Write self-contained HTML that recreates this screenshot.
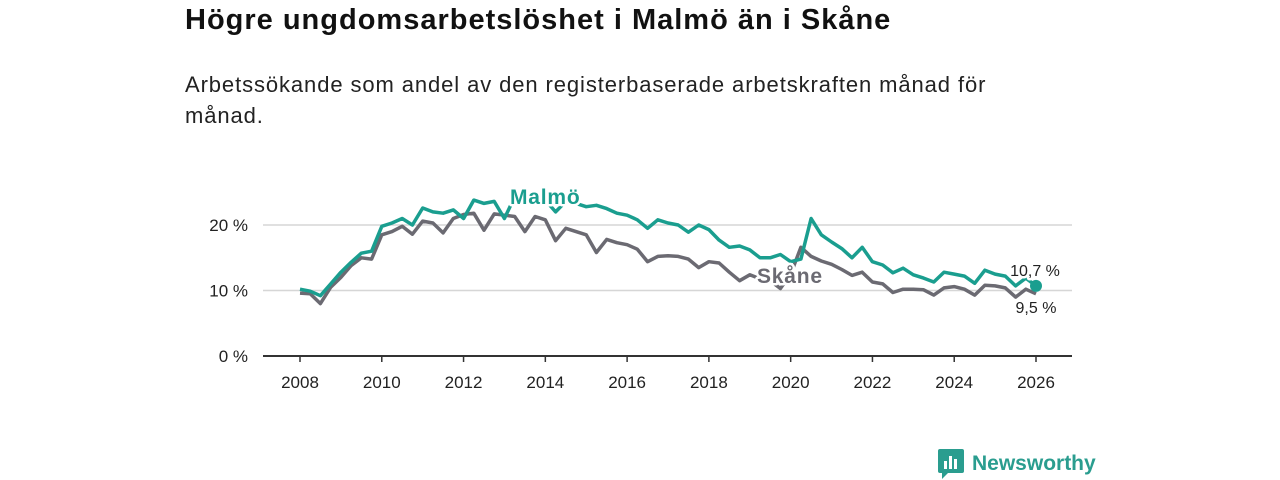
<!DOCTYPE html>
<html><head><meta charset="utf-8"><style>
body{margin:0;width:1280px;height:480px;background:#fff;font-family:"Liberation Sans",sans-serif;overflow:hidden;position:relative}
#title{position:absolute;left:185px;top:4px;font-size:29px;letter-spacing:1px;font-weight:bold;color:#111;white-space:nowrap}
#sub{position:absolute;left:185px;top:69px;font-size:22px;letter-spacing:0.9px;line-height:31px;color:#222;width:845px}
#logo{position:absolute;left:938px;top:449px;display:flex;align-items:center;gap:8px}
#logo span{font-size:21px;font-weight:bold;color:#2a9d8f}
</style></head><body>
<div id="title">Högre ungdomsarbetslöshet i Malmö än i Skåne</div>
<div id="sub">Arbetssökande som andel av den registerbaserade arbetskraften månad för månad.</div>
<svg id="chart" width="1280" height="480" style="position:absolute;left:0;top:0"></svg>
<div id="logo">
<svg width="26" height="30" viewBox="0 0 26 30"><rect x="0" y="0" width="26" height="24" rx="2" fill="#2a9d8f"/><path d="M4 24 L4 30 L10 24Z" fill="#2a9d8f"/><rect x="6" y="12" width="3" height="8" fill="#fff"/><rect x="11" y="7" width="3" height="13" fill="#fff"/><rect x="16" y="10" width="3" height="10" fill="#fff"/></svg>
<span>Newsworthy</span></div>
<script>
const startYear = 2008;
const malmo = [10.2,9.9,9.2,11.0,12.8,14.3,15.7,16.0,19.8,20.3,21.0,20.0,22.6,22.0,21.8,22.3,21.0,23.8,23.3,23.6,21.0,24.3,23.5,23.7,23.8,22.0,23.6,23.3,22.8,23.0,22.5,21.8,21.5,20.8,19.5,20.8,20.3,20.0,18.9,20.0,19.3,17.7,16.6,16.8,16.2,15.0,15.0,15.5,14.4,14.8,21.0,18.5,17.4,16.4,15.0,16.6,14.4,13.9,12.7,13.4,12.4,11.9,11.3,12.8,12.5,12.2,11.1,13.1,12.5,12.2,10.7,11.9,10.7];
const skane = [9.6,9.5,8.0,10.5,12.0,13.8,15.0,14.8,18.5,19.0,19.8,18.6,20.6,20.3,18.8,21.0,21.6,21.8,19.2,21.7,21.5,21.3,19.0,21.3,20.8,17.6,19.5,19.0,18.5,15.8,17.8,17.3,17.0,16.3,14.4,15.2,15.3,15.2,14.8,13.5,14.4,14.2,12.8,11.5,12.4,11.8,11.5,10.3,12.5,16.6,15.2,14.5,14.0,13.2,12.3,12.8,11.3,11.0,9.7,10.2,10.2,10.1,9.3,10.4,10.6,10.2,9.3,10.8,10.7,10.4,9.0,10.2,9.5];
const yTicks = [0,10,20];
const yTickLabels = ["0 %","10 %","20 %"];
const xTicks = [2008,2010,2012,2014,2016,2018,2020,2022,2024,2026];

const NS="http://www.w3.org/2000/svg";
const svg=document.getElementById('chart');
const x=t=>300+(t-2008)*(736/18);
const y=v=>356-v*6.55;
function mk(tag,attrs,parent){const e=document.createElementNS(NS,tag);for(const k in attrs)e.setAttribute(k,attrs[k]);(parent||svg).appendChild(e);return e;}
yTicks.forEach((v,i)=>{
 if(v>0){const g=mk('line',{x1:263,x2:1072,y1:y(v),y2:y(v),stroke:'#d6d6d6','stroke-width':1.5});
 
 }
 const t=mk('text',{x:248,y:y(v)+6,'text-anchor':'end','font-size':17,fill:'#222','font-family':'Liberation Sans, sans-serif'});
 t.textContent=yTickLabels[i];
 
 
});
const ax=mk('line',{x1:263,x2:1072,y1:356,y2:356,stroke:'#333','stroke-width':2});


xTicks.forEach(yr=>{
 const tk=mk('line',{x1:x(yr),x2:x(yr),y1:356,y2:362,stroke:'#333','stroke-width':1.5});
 
 
 const t=mk('text',{x:x(yr),y:388,'text-anchor':'middle','font-size':17,fill:'#222','font-family':'Liberation Sans, sans-serif'});
 t.textContent=yr;
 
 
});
function line(data,color,name){
 const d=data.map((v,i)=>(i?'L':'M')+x(startYear+i/4).toFixed(1)+' '+y(v).toFixed(1)).join(' ');
 const p=mk('path',{d:d,fill:'none',stroke:color,'stroke-width':3.5,'stroke-linejoin':'round'});
 
 
}
line(skane,'#6b6a72','skane-line');
line(malmo,'#1a9e8f','malmo-line');
function lbl(txt,xx,yy,color,size,bold,name,anchor){
 const t=mk('text',{x:xx,y:yy,fill:color,'font-size':size,'font-weight':bold?'bold':'normal',stroke:'#fff','stroke-width':5,'paint-order':'stroke','stroke-linejoin':'round','font-family':'Liberation Sans, sans-serif','text-anchor':anchor||'start','letter-spacing':bold?0.8:0});
 t.textContent=txt;
 
 
}
lbl('Malmö',510,204,'#1a9e8f',21,true,'malmo-label');
lbl('Skåne',757,283,'#6b6a72',21,true,'skane-label');
const dot=mk('circle',{cx:x(2026),cy:y(malmo[malmo.length-1]),r:6,fill:'#1a9e8f'});


lbl('10,7 %',1035,276,'#222',16,false,'malmo-end-value','middle');
lbl('9,5 %',1036,313,'#222',16,false,'skane-end-value','middle');
</script>
</body></html>
